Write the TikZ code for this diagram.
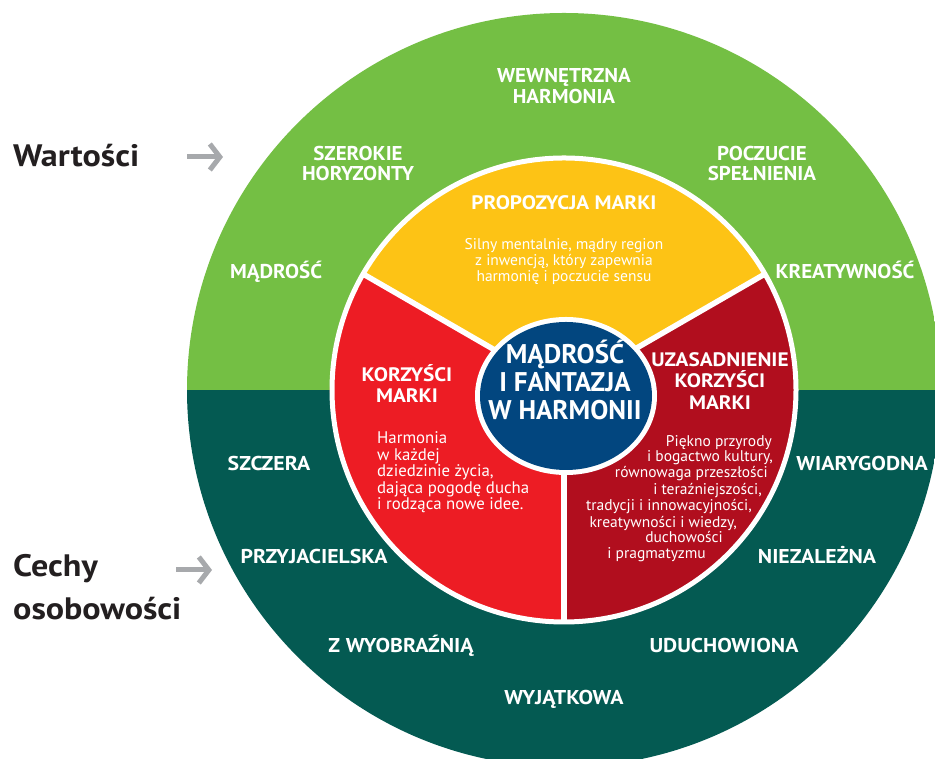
\documentclass[tikz,border=0pt]{standalone}
\usepackage{fontspec}
\setmainfont{PT Sans}
\newfontfamily\valuefont{PT Sans}[FakeStretch=1.05]
\newfontfamily\traitfont{PT Sans}[FakeStretch=1.09]
\newfontfamily\captionfont{PT Sans}[FakeStretch=1.1]
\usetikzlibrary{arrows.meta}

\definecolor{leaf}{HTML}{74BF44}
\definecolor{pine}{HTML}{045A52}
\definecolor{sun}{HTML}{FDC315}
\definecolor{scarlet}{HTML}{ED1C24}
\definecolor{wine}{HTML}{B10E1E}
\definecolor{navy}{HTML}{02467F}
\definecolor{ink}{HTML}{231F20}
\definecolor{pointer}{HTML}{A7A9AC}

\tikzset{
  valuelabel/.style={anchor=base, text=white, inner sep=0pt,
    font=\valuefont\bfseries\fontsize{20}{22}\selectfont},
  traitlabel/.style={anchor=base, text=white, inner sep=0pt,
    font=\traitfont\bfseries\fontsize{20}{22}\selectfont},
  sectorhead/.style={anchor=base, text=white, inner sep=0pt,
    font=\traitfont\bfseries\fontsize{19.5}{22}\selectfont},
  corelabel/.style={anchor=base, text=white, inner sep=0pt,
    font=\bfseries\fontsize{27}{28}\selectfont},
  bodyline/.style={text=white, inner sep=0pt,
    font=\fontsize{15.5}{16.5}\selectfont},
  benefitline/.style={text=white, inner sep=0pt, anchor=base west,
    font=\fontsize{16.8}{17}\selectfont},
  sidelabel/.style={anchor=base west, text=ink, inner sep=0pt,
    font=\captionfont\bfseries\fontsize{31}{43}\selectfont},
  pointerarrow/.style={draw=pointer, line width=5pt,
    -{Straight Barb[length=10pt,width=26pt]}},
  divider/.style={draw=white, line width=5.5pt},
}

\begin{document}
\begin{tikzpicture}[x=1pt,y=1pt]
\useasboundingbox (0,0) rectangle (935,759);
\fill[white] (0,0) rectangle (935,759);

\begin{scope}
  \clip (0,0) rectangle (935,759);
  \coordinate (C) at (564,369);
  % outer ring: values on top, personality traits below
  \begin{scope}
    \clip (C) circle[radius=377];
    \fill[leaf] (0,369) rectangle (935,759);
    \fill[pine] (0,0) rectangle (935,369);
  \end{scope}
\end{scope}

% three brand sectors
\fill[sun]     (C) -- ++(30:234)  arc[start angle=30,  end angle=150, radius=234] -- cycle;
\fill[scarlet] (C) -- ++(150:234) arc[start angle=150, end angle=270, radius=234] -- cycle;
\fill[wine]    (C) -- ++(270:234) arc[start angle=270, end angle=390, radius=234] -- cycle;
\draw[white, line width=5pt] (C) circle[radius=232];
\path (C) ++(30:233) coordinate (rimA);
\path (C) ++(150:233) coordinate (rimB);
\path (C) ++(270:233) coordinate (rimC);
\draw[divider] (C) -- (rimA);
\draw[divider] (C) -- (rimB);
\draw[divider] (C) -- (rimC);

% core
\coordinate (core) at (566,363);
\fill[white] (core) ellipse[x radius=91, y radius=79];
\fill[navy]  (core) ellipse[x radius=86, y radius=74];
\node[corelabel] (core1) at (565,395) {MĄDROŚĆ};
\node[corelabel] (core2) at (565,367) {I FANTAZJA};
\node[corelabel] (core3) at (565,339) {W HARMONII};

% values (upper half of the ring)
\node[valuelabel] (v1a) at (564,676) {WEWNĘTRZNA};
\node[valuelabel] (v1b) at (564,655) {HARMONIA};
\node[valuelabel] (v2a) at (358,598) {SZEROKIE};
\node[valuelabel] (v2b) at (358,578) {HORYZONTY};
\node[valuelabel] (v3a) at (762,598) {POCZUCIE};
\node[valuelabel] (v3b) at (762,578) {SPEŁNIENIA};
\node[valuelabel] (v4) at (276,480) {MĄDROŚĆ};
\node[valuelabel] (v5) at (845,480) {KREATYWNOŚĆ};

% personality traits (lower half of the ring)
\node[traitlabel] (t1) at (269,288) {SZCZERA};
\node[traitlabel] (t2) at (862,288) {WIARYGODNA};
\node[traitlabel] (t3) at (314,195) {PRZYJACIELSKA};
\node[traitlabel] (t4) at (817,195) {NIEZALEŻNA};
\node[traitlabel] (t5) at (401,106) {Z WYOBRAŹNIĄ};
\node[traitlabel] (t6) at (724,106) {UDUCHOWIONA};
\node[traitlabel] (t7) at (564,54) {WYJĄTKOWA};

% brand proposition
\node[sectorhead] (propHead) at (564,549) {PROPOZYCJA MARKI};
\node[bodyline, anchor=base] (prop1) at (564,509) {Silny mentalnie, mądry region};
\node[bodyline, anchor=base] (prop2) at (564,493) {z inwencją, który zapewnia};
\node[bodyline, anchor=base] (prop3) at (564,477) {harmonię i poczucie sensu};

% brand benefits
\node[sectorhead] (benHead1) at (407,377) {KORZYŚCI};
\node[sectorhead] (benHead2) at (407,356) {MARKI};
\node[benefitline] (ben1) at (377,315) {Harmonia};
\node[benefitline] (ben2) at (377,298) {w każdej};
\node[benefitline] (ben3) at (377,282) {dziedzinie życia,};
\node[benefitline] (ben4) at (377,265) {dająca pogodę ducha};
\node[benefitline] (ben5) at (377,249) {i rodząca nowe idee.};

% reasons to believe
\node[sectorhead] (rtbHead1) at (720,392) {UZASADNIENIE};
\node[sectorhead] (rtbHead2) at (720,371) {KORZYŚCI};
\node[sectorhead] (rtbHead3) at (720,349) {MARKI};
\node[bodyline, anchor=base east] (rtb1) at (772,312) {Piękno przyrody};
\node[bodyline, anchor=base east] (rtb2) at (773,297) {i bogactwo kultury,};
\node[bodyline, anchor=base east] (rtb3) at (768,281) {równowaga przeszłości};
\node[bodyline, anchor=base east] (rtb4) at (762,264) {i teraźniejszości,};
\node[bodyline, anchor=base east] (rtb5) at (752,248) {tradycji i innowacyjności,};
\node[bodyline, anchor=base east] (rtb6) at (737,231) {kreatywności i wiedzy,};
\node[bodyline, anchor=base east] (rtb7) at (723,216) {duchowości};
\node[bodyline, anchor=base east] (rtb8) at (706,200) {i pragmatyzmu};

% side captions
\node[sidelabel] (values) at (13,592) {Wartości};
\node[sidelabel] (traits1) at (13,182) {Cechy};
\node[sidelabel] (traits2) at (13,139) {osobowości};
\coordinate (valuesFrom) at (187,602);
\coordinate (valuesTo) at (223,602);
\coordinate (traitsFrom) at (176,189);
\coordinate (traitsTo) at (212,189);
\draw[pointerarrow] (valuesFrom) -- (valuesTo);
\draw[pointerarrow] (traitsFrom) -- (traitsTo);
\end{tikzpicture}
\end{document}
